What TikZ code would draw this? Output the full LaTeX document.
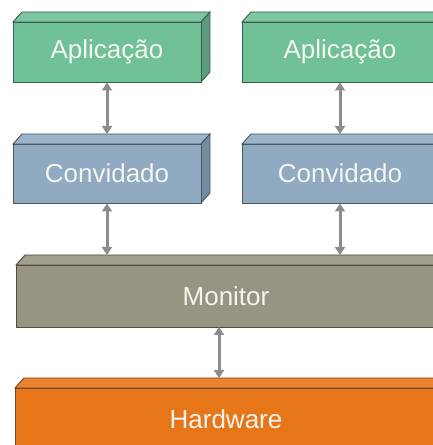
\documentclass[tikz,border=0pt]{standalone}
\usepackage{fontspec}
\setmainfont{Liberation Sans}
\usetikzlibrary{arrows.meta}
\definecolor{appcol}{HTML}{70C098}
\definecolor{apptop}{HTML}{7CC7A2}
\definecolor{appside}{HTML}{5A9C7B}
\definecolor{appedge}{HTML}{3E5E4E}
\definecolor{guecol}{HTML}{8FAAC1}
\definecolor{guetop}{HTML}{9BB4C9}
\definecolor{gueside}{HTML}{748C9F}
\definecolor{gueedge}{HTML}{4A5560}
\definecolor{moncol}{HTML}{979582}
\definecolor{montop}{HTML}{A19F8D}
\definecolor{monedge}{HTML}{4E4D44}
\definecolor{hwcol}{HTML}{E77618}
\definecolor{hwtopcol}{HTML}{EA8230}
\definecolor{hwedge}{HTML}{6E4A2A}
\definecolor{arrowgray}{HTML}{8C8C8C}
\definecolor{labelcol}{HTML}{F4F4F0}
\tikzset{
  blockbox/.style={line width=0.9pt, text=labelcol, font=\fontsize{26}{26}\selectfont},
  facebox/.style={line width=0.9pt},
  updown/.style={draw=arrowgray, line width=3pt, {Triangle[width=10pt,length=8pt]}-{Triangle[width=10pt,length=8pt]}}
}
\begin{document}
\begin{tikzpicture}[x=1pt,y=1pt]
\useasboundingbox (0,0) rectangle (433,445);
\filldraw[facebox, fill=apptop, draw=appedge] (13,423) -- (22,433) -- (210,433) -- (201,423) -- cycle;
\filldraw[facebox, fill=apptop, draw=appedge] (242,423) -- (251,433) -- (447,433) -- (438,423) -- cycle;
\filldraw[facebox, fill=guetop, draw=gueedge] (13,301) -- (22,311) -- (210,311) -- (201,301) -- cycle;
\filldraw[facebox, fill=guetop, draw=gueedge] (242,301) -- (251,311) -- (447,311) -- (438,301) -- cycle;
\filldraw[facebox, fill=montop, draw=monedge] (16,180) -- (25,190) -- (445,190) -- (436,180) -- cycle;
\filldraw[facebox, fill=hwtopcol, draw=hwedge] (15,57) -- (24,67) -- (446,67) -- (437,57) -- cycle;
\filldraw[facebox, fill=appside, draw=appedge] (201,423) -- (210,433) -- (210,373) -- (201,363) -- cycle;
\filldraw[facebox, fill=gueside, draw=gueedge] (201,301) -- (210,311) -- (210,252) -- (201,242) -- cycle;
\node[blockbox, draw=appedge, fill=appcol, minimum width=188pt, minimum height=60pt] (appL) at (107,393) {Aplicação};
\node[blockbox, draw=appedge, fill=appcol, minimum width=196pt, minimum height=60pt] (appR) at (340,393) {Aplicação};
\node[blockbox, draw=gueedge, fill=guecol, minimum width=188pt, minimum height=59pt] (gueL) at (107,271.5) {Convidado};
\node[blockbox, draw=gueedge, fill=guecol, minimum width=196pt, minimum height=59pt] (gueR) at (340,271.5) {Convidado};
\node[blockbox, draw=monedge, fill=moncol, minimum width=420pt, minimum height=62pt] (mon) at (226,149) {Monitor};
\node[blockbox, draw=hwedge, fill=hwcol, minimum width=422pt, minimum height=62pt] (hw) at (226,26) {Hardware};
\coordinate (gueLtop) at (107,311);
\coordinate (gueRtop) at (340,311);
\coordinate (monLtop) at (107,190);
\coordinate (monRtop) at (340,190);
\coordinate (monfoot) at (219,118);
\coordinate (hwface) at (219,67);
\draw[updown] (appL.south) -- (gueLtop);
\draw[updown] (appR.south) -- (gueRtop);
\draw[updown] (gueL.south) -- (monLtop);
\draw[updown] (gueR.south) -- (monRtop);
\draw[updown] (monfoot) -- (hwface);
\end{tikzpicture}
\end{document}
